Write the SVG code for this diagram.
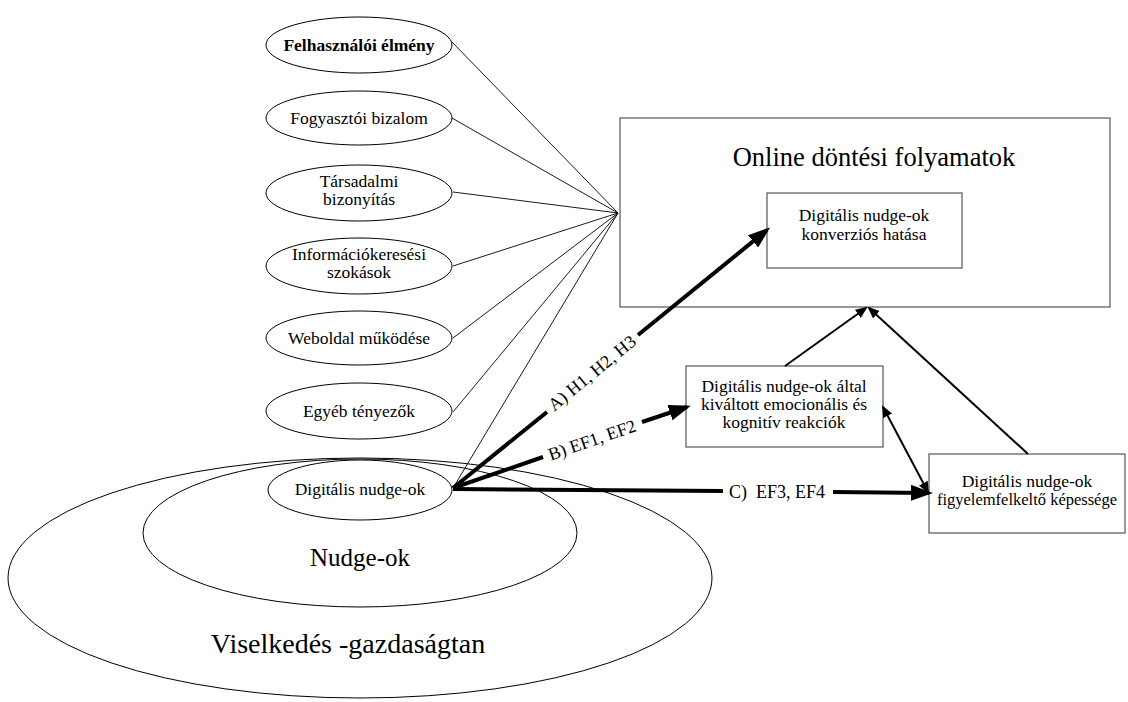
<svg xmlns="http://www.w3.org/2000/svg" width="1128" height="702" viewBox="0 0 1128 702">
<style>
text{font-family:"Liberation Serif","Times New Roman",serif;fill:#000}
.f{font-size:17.5px;text-anchor:middle}
.m{font-size:17.5px;text-anchor:middle}
.lab{font-size:18px}
.el{fill:none;stroke:#000;stroke-width:1}
.box{fill:none;stroke:#555;stroke-width:1.2}
.thin{stroke:#000;stroke-width:0.9;fill:none}
.thick{stroke:#000;stroke-width:4;fill:none}
.med{stroke:#000;stroke-width:2;fill:none}
</style>
<defs>
<marker id="big" markerUnits="userSpaceOnUse" markerWidth="22" markerHeight="16" refX="18" refY="8" orient="auto">
<path d="M0,0 L22,8 L0,16 z" fill="#000"/>
</marker>
<marker id="sm" markerUnits="userSpaceOnUse" markerWidth="12" markerHeight="10" refX="10" refY="5" orient="auto-start-reverse">
<path d="M0,0 L12,5 L0,10 z" fill="#000"/>
</marker>
</defs>
<rect width="1128" height="702" fill="#fff"/>

<g id="viselkedes">
<ellipse class="el" cx="360" cy="578" rx="352" ry="120"/>
<text x="348" y="653" style="font-size:28px;text-anchor:middle">Viselkedés -gazdaságtan</text>
</g>
<g id="nudgeok">
<ellipse class="el" cx="360" cy="533" rx="217" ry="74"/>
<text x="360" y="566" style="font-size:25px;text-anchor:middle">Nudge-ok</text>
</g>

<g id="n1"><ellipse class="el" cx="359" cy="45" rx="93" ry="28"/><text class="f" x="359" y="51" font-weight="bold">Felhasználói élmény</text></g>
<g id="n2"><ellipse class="el" cx="359" cy="118" rx="93" ry="27"/><text class="f" x="359" y="124">Fogyasztói bizalom</text></g>
<g id="n3"><ellipse class="el" cx="359" cy="193" rx="93" ry="28"/><text class="f" x="359" y="187">Társadalmi</text><text class="f" x="359" y="205">bizonyítás</text></g>
<g id="n4"><ellipse class="el" cx="359" cy="266" rx="93" ry="28"/><text class="f" x="359" y="260">Információkeresési</text><text class="f" x="359" y="278">szokások</text></g>
<g id="n5"><ellipse class="el" cx="359" cy="338" rx="93" ry="27"/><text class="f" x="359" y="344">Weboldal működése</text></g>
<g id="n6"><ellipse class="el" cx="359" cy="411" rx="93" ry="28"/><text class="f" x="359" y="417">Egyéb tényezők</text></g>
<g id="n7"><ellipse class="el" cx="360" cy="490" rx="92" ry="30"/><text class="f" x="360" y="495">Digitális nudge-ok</text></g>

<g id="online"><rect class="box" x="620" y="118" width="490" height="189"/><text x="874" y="166" style="font-size:26.5px;text-anchor:middle">Online döntési folyamatok</text></g>
<g id="konverzio"><rect class="box" x="767" y="193" width="195" height="75"/><text class="m" x="864" y="221">Digitális nudge-ok</text><text class="m" x="864" y="240">konverziós hatása</text></g>
<g id="reakciok"><rect class="box" x="686" y="366" width="197" height="81"/><text class="m" x="784" y="392">Digitális nudge-ok által</text><text class="m" x="784" y="410">kiváltott emocionális és</text><text class="m" x="784" y="428">kognitív reakciók</text></g>
<g id="figyelem"><rect class="box" x="929" y="454" width="196" height="79"/><text class="m" x="1027" y="487">Digitális nudge-ok</text><text class="m" x="1027" y="505" style="font-size:16.5px">figyelemfelkeltő képessége</text></g>

<g id="connectors">
<line class="thin" x1="452" y1="42" x2="618" y2="213"/>
<line class="thin" x1="452" y1="118" x2="618" y2="213"/>
<line class="thin" x1="453" y1="192" x2="618" y2="213"/>
<line class="thin" x1="453" y1="266" x2="618" y2="213"/>
<line class="thin" x1="453" y1="338" x2="618" y2="213"/>
<line class="thin" x1="453" y1="412" x2="618" y2="213"/>
<line class="thin" x1="453" y1="488" x2="618" y2="213"/>
<line class="thick" x1="453" y1="488" x2="547" y2="412"/>
<line class="thick" x1="638" y1="335" x2="767" y2="230" marker-end="url(#big)"/>
<line class="thick" x1="453" y1="488" x2="543" y2="457"/>
<line class="thick" x1="642" y1="422" x2="687" y2="407" marker-end="url(#big)"/>
<line class="thick" x1="453" y1="489" x2="723" y2="491"/>
<line class="thick" x1="833" y1="492" x2="929" y2="493" marker-end="url(#big)"/>
<line class="med" x1="785" y1="366" x2="866" y2="308" marker-end="url(#sm)"/>
<line class="med" x1="1028" y1="454" x2="869" y2="308" marker-end="url(#sm)"/>
<line class="med" x1="883" y1="407" x2="928" y2="492" marker-start="url(#sm)" marker-end="url(#sm)"/>
<text class="lab" text-anchor="middle" transform="translate(592,373) rotate(-39.4)" y="6">A) H1, H2, H3</text>
<text class="lab" text-anchor="middle" transform="translate(592,440) rotate(-19.1)" y="6">B) EF1, EF2</text>
<text class="lab" x="729" y="498" xml:space="preserve">C)  EF3, EF4</text>
</g>
</svg>
